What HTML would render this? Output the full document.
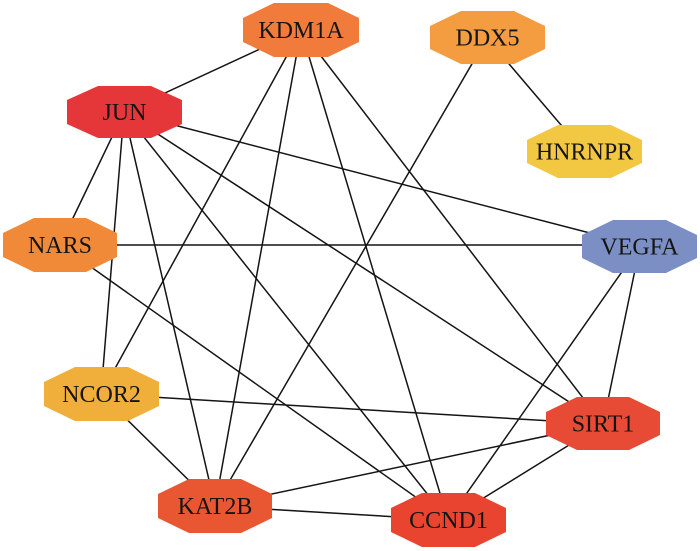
<!DOCTYPE html>
<html><head><meta charset="utf-8"><style>
html,body{margin:0;padding:0;background:#fff;}
svg{display:block;}
text{font-family:"Liberation Serif",serif;font-size:24px;fill:#151515;text-anchor:middle;dominant-baseline:central;}
</style></head><body>
<svg width="700" height="551" viewBox="0 0 700 551" xmlns="http://www.w3.org/2000/svg">
<rect width="700" height="551" fill="#fff"/>
<g stroke="#141414" stroke-width="1.5" fill="none">
<!-- KDM1A (301,30) -->
<line x1="301" y1="30" x2="124" y2="112"/>
<line x1="301" y1="30" x2="101" y2="394"/>
<line x1="301" y1="30" x2="215" y2="506"/>
<line x1="301" y1="30" x2="448" y2="520"/>
<line x1="301" y1="30" x2="603" y2="424"/>
<!-- JUN (124,112) -->
<line x1="124" y1="112" x2="60" y2="245"/>
<line x1="124" y1="112" x2="101" y2="394"/>
<line x1="124" y1="112" x2="215" y2="506"/>
<line x1="124" y1="112" x2="448" y2="520"/>
<line x1="124" y1="112" x2="603" y2="424"/>
<line x1="124" y1="112" x2="640" y2="246"/>
<!-- NARS (60,245) -->
<line x1="60" y1="245" x2="640" y2="245"/>
<line x1="60" y1="245" x2="448" y2="520"/>
<!-- DDX5 (487,38) -->
<line x1="487" y1="38" x2="584" y2="152"/>
<line x1="487" y1="38" x2="215" y2="506"/>
<!-- VEGFA (640,246) -->
<line x1="640" y1="246" x2="603" y2="424"/>
<line x1="640" y1="246" x2="448" y2="520"/>
<!-- NCOR2 (101,394) -->
<line x1="101" y1="394" x2="603" y2="424"/>
<line x1="101" y1="394" x2="215" y2="506"/>
<!-- KAT2B (215,506) -->
<line x1="215" y1="506" x2="603" y2="424"/>
<line x1="215" y1="506" x2="448" y2="520"/>
<!-- SIRT1 - CCND1 -->
<line x1="603" y1="424" x2="448" y2="520"/>
</g>
<g stroke="none">
<!-- KDM1A 243-359, 3-57 -->
<polygon fill="#F07B3A" points="274,3 328,3 359,18 359,42 328,57 274,57 243,42 243,18"/>
<!-- JUN 67-182, 86-138 -->
<polygon fill="#E5363A" points="98,86 151,86 182,100 182,124 151,138 98,138 67,124 67,100"/>
<!-- DDX5 430-545, 11-64 -->
<polygon fill="#F39C40" points="461,11 514,11 545,26 545,49 514,64 461,64 430,49 430,26"/>
<!-- HNRNPR 527-642, 125-178 -->
<polygon fill="#F2C843" points="558,125 611,125 642,140 642,163 611,178 558,178 527,163 527,140"/>
<!-- NARS 3-117, 218-272 -->
<polygon fill="#F08A38" points="34,218 86,218 117,233 117,257 86,272 34,272 3,257 3,233"/>
<!-- VEGFA 582-697, 220-273 -->
<polygon fill="#7B8FC5" points="613,220 666,220 697,235 697,258 666,273 613,273 582,258 582,235"/>
<!-- NCOR2 44-159, 367-421 -->
<polygon fill="#F0AF3A" points="75,367 128,367 159,382 159,406 128,421 75,421 44,406 44,382"/>
<!-- SIRT1 546-660, 397-450 -->
<polygon fill="#E84B35" points="577,397 629,397 660,412 660,435 629,450 577,450 546,435 546,412"/>
<!-- KAT2B 158-272, 479-533 -->
<polygon fill="#E85731" points="189,479 241,479 272,494 272,518 241,533 189,533 158,518 158,494"/>
<!-- CCND1 391-506, 493-547 -->
<polygon fill="#E8442F" points="422,493 475,493 506,508 506,532 475,547 422,547 391,532 391,508"/>
</g>
<text x="301" y="31">KDM1A</text>
<text x="124.5" y="113">JUN</text>
<text x="487.5" y="38.5">DDX5</text>
<text x="584.5" y="152.5">HNRNPR</text>
<text x="60" y="246">NARS</text>
<text x="639.5" y="247.5">VEGFA</text>
<text x="101.5" y="395">NCOR2</text>
<text x="603" y="424.5">SIRT1</text>
<text x="215" y="507">KAT2B</text>
<text x="448.5" y="521">CCND1</text>
</svg>
</body></html>
